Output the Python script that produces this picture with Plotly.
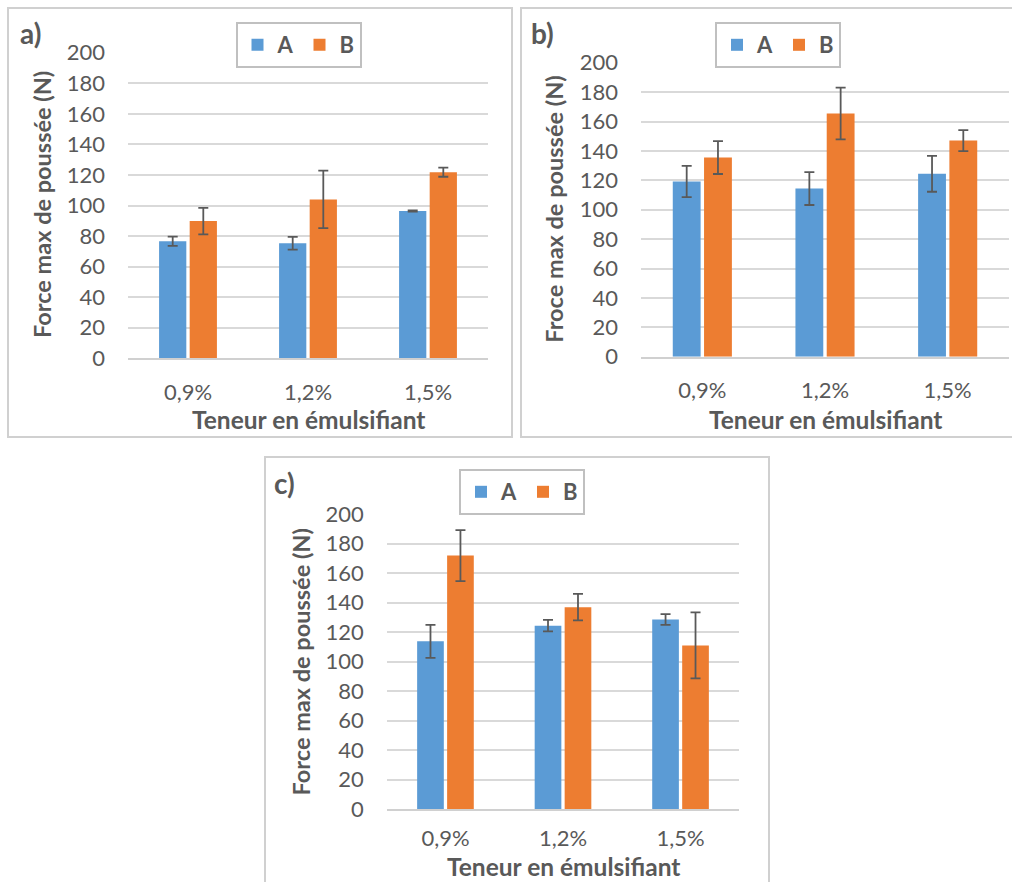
import plotly.graph_objects as go

categories = ["0,9%", "1,2%", "1,5%"]

a_A = [76.6, 75.3, 96.4]
a_A_err = [3.0, 4.2, 0.4]
a_B = [89.8, 104.0, 121.8]
a_B_err = [8.7, 18.8, 3.0]

b_A = [119.2, 114.4, 124.4]
b_A_err = [10.6, 11.2, 12.2]
b_B = [135.5, 165.5, 147.0]
b_B_err = [11.2, 17.6, 7.2]

c_A = [113.8, 124.4, 128.6]
c_A_err = [11.2, 3.9, 3.6]
c_B = [172.0, 137.0, 111.0]
c_B_err = [17.3, 9.0, 22.4]

series_names = ["A", "B"]
y_titles = ["Force max de poussée (N)", "Froce max de poussée (N)", "Force max de poussée (N)"]
x_title = "Teneur en émulsifiant"
panel_labels = ["a)", "b)", "c)"]

W, H = 1012, 882
BLUE = "#5B9BD5"
ORANGE = "#ED7D31"
TXT = "#595959"
GRID = "#D9D9D9"
FONT = "Lato"

def px_x(x):
    return x / W

def px_y(y):
    return 1 - y / H

# plot areas in pixels: (left, right, top, bottom)
areas = [
    (128, 488, 52.7, 358.3),
    (641, 1009, 62.7, 356.7),
    (386.7, 739.3, 514.3, 809),
]
xtick_standoff = [13, 13, 9]

fig = go.Figure()
panels = [(a_A, a_A_err, a_B, a_B_err), (b_A, b_A_err, b_B, b_B_err), (c_A, c_A_err, c_B, c_B_err)]
legend_ids = ["legend", "legend2", "legend3"]

for i, (vA, eA, vB, eB) in enumerate(panels):
    xa = "x" if i == 0 else f"x{i+1}"
    ya = "y" if i == 0 else f"y{i+1}"
    for name, vals, errs, col in [(series_names[0], vA, eA, BLUE), (series_names[1], vB, eB, ORANGE)]:
        fig.add_trace(go.Bar(
            x=categories, y=vals, name=name, marker=dict(color=col, line=dict(width=0)),
            error_y=dict(type="data", array=errs, visible=True, color="#595959", thickness=1.8, width=5),
            xaxis=xa, yaxis=ya, legend=legend_ids[i],
        ))

layout = dict(
    width=W, height=H, margin=dict(l=0, r=0, t=0, b=0, autoexpand=False),
    paper_bgcolor="white", plot_bgcolor="white",
    barmode="group", bargap=0.49, bargroupgap=0.11,
    font=dict(family=FONT, color=TXT),
    showlegend=True,
)

for i, (l, r, t, b) in enumerate(areas):
    sx = "" if i == 0 else str(i + 1)
    layout["xaxis" + sx] = dict(
        domain=[px_x(l), px_x(r)], anchor="y" + sx, automargin=False,
        showgrid=False, showline=True, linecolor="#D0D0D0", linewidth=2,
        ticks="", ticklabelstandoff=xtick_standoff[i],
        tickfont=dict(family=FONT, size=22, color=TXT),
        fixedrange=True,
    )
    layout["yaxis" + sx] = dict(
        domain=[px_y(b), px_y(t)], anchor="x" + sx, automargin=False,
        range=[0, 200], dtick=20, tick0=0,
        showgrid=True, gridcolor=GRID, gridwidth=1.5,
        zeroline=False, showline=False,
        ticks="", ticklabelstandoff=22,
        tickfont=dict(family=FONT, size=22, color=TXT),
        fixedrange=True,
    )

legend_pos = [(298.5, 22), (778, 22), (522, 469)]
for i, (cx, ty) in enumerate(legend_pos):
    key = legend_ids[i]
    layout[key] = dict(
        x=px_x(cx), y=px_y(ty), xanchor="center", yanchor="top",
        orientation="h", bgcolor="white", bordercolor="#C0C0C0", borderwidth=2,
        font=dict(family=FONT, size=22, color=TXT, weight="bold"),
        itemwidth=30, tracegroupgap=0,
    )

fig.update_layout(**layout)

# panel borders
borders = [(8, 512, 8, 437), (521, 1014, 8, 437), (265, 769, 457, 890)]
for (x0, x1, y0, y1) in borders:
    fig.add_shape(type="rect", xref="paper", yref="paper",
                  x0=px_x(x0), x1=px_x(x1), y0=px_y(y1), y1=px_y(y0),
                  line=dict(color="#D0D0D0", width=2), fillcolor="rgba(0,0,0,0)", layer="below")

# axis titles
ytitle_pos = [(42, 205), (554, 209.7), (300.7, 661.7)]
xtitle_pos = [(308, 419), (825, 419), (563, 866)]
label_pos = [(30, 33), (542, 33), (284, 483)]
for i in range(3):
    yx, yy = ytitle_pos[i]
    fig.add_annotation(text=y_titles[i], x=px_x(yx), y=px_y(yy), xref="paper", yref="paper",
                       showarrow=False, textangle=-90, xanchor="center", yanchor="middle",
                       font=dict(family=FONT, size=23.5, color=TXT, weight="bold"))
    xx, xy = xtitle_pos[i]
    fig.add_annotation(text=x_title, x=px_x(xx), y=px_y(xy), xref="paper", yref="paper",
                       showarrow=False, xanchor="center", yanchor="middle",
                       font=dict(family=FONT, size=24.5, color=TXT, weight="bold"))
    lx, ly = label_pos[i]
    fig.add_annotation(text=panel_labels[i], x=px_x(lx), y=px_y(ly), xref="paper", yref="paper",
                       showarrow=False, xanchor="center", yanchor="middle",
                       font=dict(family=FONT, size=28, color=TXT, weight="bold"))

fig.write_html(
    "out.html",
    config={"displayModeBar": False},
    post_script="document.body.style.margin='0';document.body.style.overflow='hidden';",
)
